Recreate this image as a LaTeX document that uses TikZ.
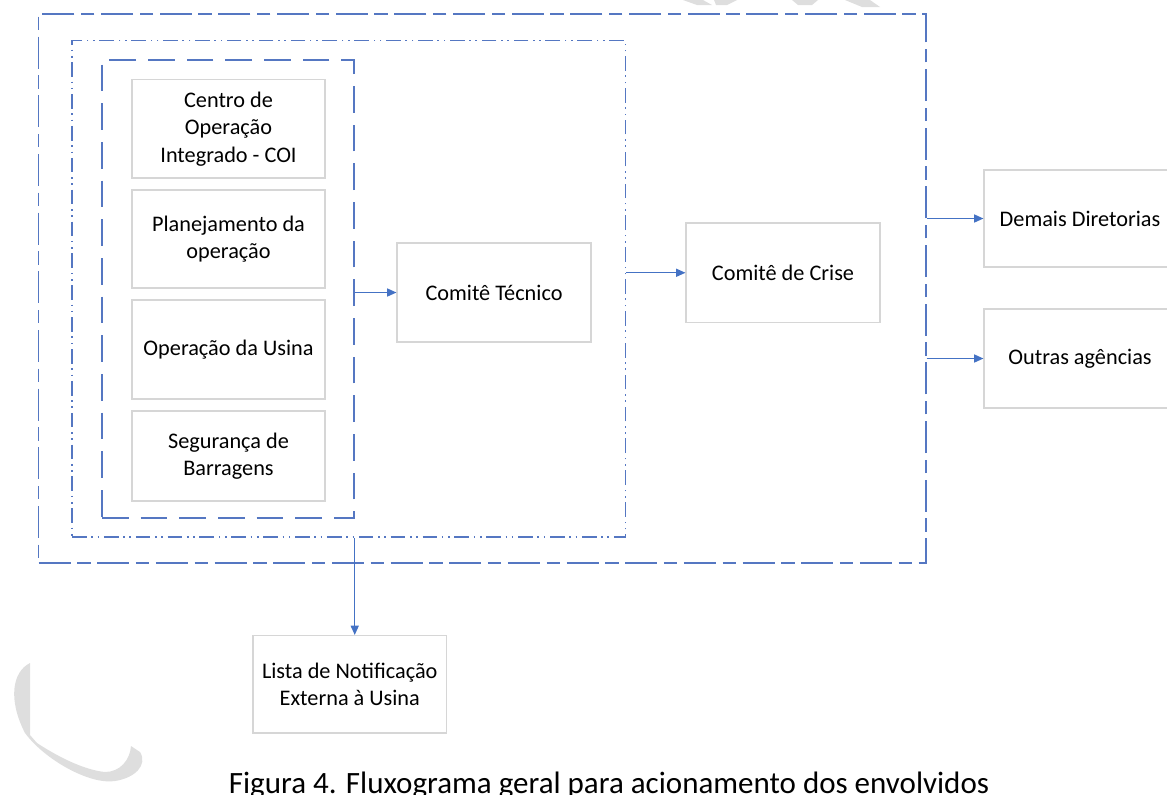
\documentclass[tikz,border=0pt]{standalone}
\usepackage{fontspec}
\setmainfont{Carlito}
\usetikzlibrary{arrows.meta}
\definecolor{lnblue}{HTML}{4472C4}
\definecolor{dashblue}{HTML}{5577C2}
\definecolor{boxgray}{HTML}{D6D6D6}
\definecolor{wmgray}{HTML}{DEDEDE}
\begin{document}
\begin{tikzpicture}[x=0.75pt,y=-0.75pt,
  box/.style={draw=boxgray, line width=0.8pt, fill=white, align=center, inner sep=2pt,
    font=\fontsize{16.7}{20.6}\selectfont},
  outerbox/.style={draw=dashblue, line width=1.1pt, inner sep=0pt,
    dash pattern=on 24pt off 5pt on 10pt off 5pt},
  midbox/.style={draw=dashblue, line width=1.1pt, inner sep=0pt,
    dash pattern=on 11pt off 3.5pt on 1.2pt off 3.5pt on 1.2pt off 3.5pt},
  innerbox/.style={draw=dashblue, line width=1.1pt, inner sep=0pt,
    dash pattern=on 20pt off 9pt},
  arr/.style={draw=lnblue, line width=1.1pt, -{Triangle[length=7pt,width=6pt]}},
  wm/.style={fill=wmgray, draw=none}
]
\useasboundingbox (0,0) rectangle (1167,794);

% watermark fragments
\fill[wm] (683,0) -- (703,0) -- (712,5) -- (697,5) -- cycle;
\fill[wm] (714,0) -- (737,0) -- (727,5) -- (716,5) -- cycle;
\fill[wm] (792,0) -- (818,0) -- (812,5) -- (798,5) -- cycle;
\fill[wm] (845,0) -- (870,0) -- (880,7) -- (862,7) -- cycle;
\fill[wm] (30,663) .. controls (12,672) and (8,700) .. (25,733)
  .. controls (45,760) and (90,785) .. (115,781)
  .. controls (135,778) and (148,765) .. (140,752) -- (131,746)
  .. controls (130,760) and (120,772) .. (105,772)
  .. controls (85,770) and (60,758) .. (37,743) -- (30,735) -- cycle;

% containers
\node[outerbox, minimum width=665.6pt, minimum height=411.75pt] (outer) at (482.25,288.5) {};
\node[midbox, minimum width=415.1pt, minimum height=372.4pt] (mid) at (348.75,288.75) {};
\node[innerbox, minimum width=189pt, minimum height=343.5pt] (inner) at (228,289) {};

% boxes
\node[box, minimum width=144.75pt, minimum height=73.9pt] (coi) at (228.5,128.75) {Centro de\\Operação\\Integrado - COI};
\node[box, minimum width=144.75pt, minimum height=73.5pt] (plan) at (228.5,239) {Planejamento da\\operação};
\node[box, minimum width=144.75pt, minimum height=74.25pt] (oper) at (228.5,349.5) {Operação da Usina};
\node[box, minimum width=144.75pt, minimum height=67.5pt] (seg) at (228.5,456) {Segurança de\\Barragens};
\node[box, minimum width=145.5pt, minimum height=74.25pt] (tec) at (494,292.5) {Comitê Técnico};
\node[box, minimum width=145.5pt, minimum height=74.6pt] (crise) at (783,272.75) {Comitê de Crise};
\node[box, minimum width=144pt, minimum height=72.75pt] (demais) at (1080,218.5) {Demais Diretorias};
\node[box, minimum width=144pt, minimum height=74.25pt] (outras) at (1080,358.5) {Outras agências};
\node[box, minimum width=145.1pt, minimum height=73.1pt] (lista) at (349.75,684.25) {Lista de Notificação\\Externa à Usina};

% connectors
\draw[arr] (inner.east |- tec.west) -- (tec.west);
\draw[arr] (mid.east |- crise.west) -- (crise.west);
\draw[arr] (outer.east |- demais.west) -- (demais.west);
\draw[arr] (outer.east |- outras.west) -- (outras.west);
\draw[arr] (mid.south -| inner.east) -- (lista.north -| inner.east);

% caption
\node[anchor=base, inner sep=0pt, font=\fontsize{23.25}{28}\selectfont] (cap) at (609,793) {Figura 4. Fluxograma geral para acionamento dos envolvidos};
\end{tikzpicture}
\end{document}
